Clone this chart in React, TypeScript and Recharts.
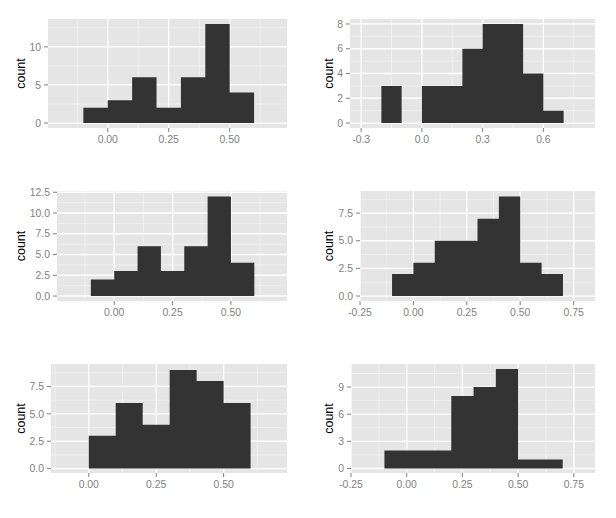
import React from 'react';
import { ComposedChart, Area, XAxis, YAxis, CartesianGrid } from 'recharts';

// Bin edges (bin width 0.1)
const edgesA = [-0.1, 0, 0.1, 0.2, 0.3, 0.4, 0.5, 0.6];
const edgesB = [-0.2, -0.1, 0, 0.1, 0.2, 0.3, 0.4, 0.5, 0.6, 0.7];
const edgesC = [-0.1, 0, 0.1, 0.2, 0.3, 0.4, 0.5, 0.6, 0.7];
const edgesD = [0, 0.1, 0.2, 0.3, 0.4, 0.5, 0.6];

// Counts per bin
const counts1 = [2, 3, 6, 2, 6, 13, 4];
const counts2 = [3, 0, 3, 3, 6, 8, 8, 4, 1];
const counts3 = [2, 3, 6, 3, 6, 12, 4];
const counts4 = [2, 3, 5, 5, 7, 9, 3, 2];
const counts5 = [3, 6, 4, 9, 8, 6];
const counts6 = [2, 2, 2, 8, 9, 11, 1, 1];

// Tick values
const xTicksA = [0, 0.25, 0.5];
const xMinorA = [-0.125, 0.125, 0.375, 0.625];
const xTicksB = [-0.3, 0, 0.3, 0.6];
const xMinorB = [-0.15, 0.15, 0.45, 0.75];
const xTicksC = [-0.25, 0, 0.25, 0.5, 0.75];
const xMinorC = [-0.125, 0.125, 0.375, 0.625];

const yTicks1 = [0, 5, 10];
const yMinor1 = [2.5, 7.5, 12.5];
const yTicks2 = [0, 2, 4, 6, 8];
const yMinor2 = [1, 3, 5, 7];
const yTicks3 = [0, 2.5, 5, 7.5, 10, 12.5];
const yMinor3 = [1.25, 3.75, 6.25, 8.75, 11.25];
const yTicks4 = [0, 2.5, 5, 7.5];
const yMinor4 = [1.25, 3.75, 6.25, 8.75];
const yTicks6 = [0, 3, 6, 9];
const yMinor6 = [1.5, 4.5, 7.5, 10.5];

const build = (edges: number[], counts: number[]) =>
  edges.map((x, i) => ({ x, count: i < counts.length ? counts[i] : 0 }));

const FONT = '"Liberation Sans", Arial, sans-serif';

type Panel = {
  data: { x: number; count: number }[];
  xDomain: [number, number];
  yDomain: [number, number];
  xTicks: number[];
  xMinor: number[];
  yTicks: number[];
  yMinor: number[];
  xDec: number;
  yDec: number;
  left: number;
  top: number;
  width: number;
  height: number;
  mTop: number;
  mRight: number;
  yW: number;
  xH: number;
};

const panels: Panel[] = [
  { data: build(edgesA, counts1), xDomain: [-0.245, 0.735], yDomain: [-0.65, 13.65], xTicks: xTicksA, xMinor: xMinorA, yTicks: yTicks1, yMinor: yMinor1, xDec: 2, yDec: 0, left: 0, top: 0, width: 308, height: 170, mTop: 19, mRight: 21, yW: 48, xH: 42 },
  { data: build(edgesB, counts2), xDomain: [-0.355, 0.855], yDomain: [-0.4, 8.4], xTicks: xTicksB, xMinor: xMinorB, yTicks: yTicks2, yMinor: yMinor2, xDec: 1, yDec: 0, left: 308, top: 0, width: 308, height: 170, mTop: 19, mRight: 21, yW: 42, xH: 42 },
  { data: build(edgesA, counts3), xDomain: [-0.245, 0.74], yDomain: [-0.6, 12.65], xTicks: xTicksA, xMinor: xMinorA, yTicks: yTicks3, yMinor: yMinor3, xDec: 2, yDec: 1, left: 0, top: 170, width: 308, height: 170, mTop: 21, mRight: 21, yW: 57, xH: 39 },
  { data: build(edgesC, counts4), xDomain: [-0.25, 0.85], yDomain: [-0.45, 9.5], xTicks: xTicksC, xMinor: xMinorC, yTicks: yTicks4, yMinor: yMinor4, xDec: 2, yDec: 1, left: 308, top: 170, width: 308, height: 170, mTop: 21, mRight: 21, yW: 52, xH: 39 },
  { data: build(edgesD, counts5), xDomain: [-0.14, 0.735], yDomain: [-0.4, 9.55], xTicks: xTicksA, xMinor: xMinorA, yTicks: yTicks4, yMinor: yMinor4, xDec: 2, yDec: 1, left: 0, top: 340, width: 308, height: 178, mTop: 24, mRight: 21, yW: 51, xH: 45 },
  { data: build(edgesC, counts6), xDomain: [-0.25, 0.845], yDomain: [-0.5, 11.55], xTicks: xTicksC, xMinor: xMinorC, yTicks: yTicks6, yMinor: yMinor6, xDec: 2, yDec: 0, left: 308, top: 340, width: 308, height: 178, mTop: 24, mRight: 21, yW: 43, xH: 45 },
];

const CountLabel = (props: any) => {
  const vb = props.viewBox || { x: 0, y: 0, width: 0, height: 0 };
  const x = 25;
  const y = vb.y + vb.height / 2;
  return (
    <text
      x={x}
      y={y}
      transform={`rotate(-90, ${x}, ${y})`}
      textAnchor="middle"
      fill="#000000"
      fontSize={12.5}
      fontFamily={FONT}
    >
      count
    </text>
  );
};

const tickStyle = { fill: '#7F7F7F', fontSize: 10.4, fontFamily: FONT };

const HistPanel = ({ p }: { p: Panel }) => (
  <div style={{ position: 'absolute', left: p.left, top: p.top, width: p.width, height: p.height }}>
    <ComposedChart
      width={p.width}
      height={p.height}
      data={p.data}
      margin={{ top: p.mTop, right: p.mRight, left: 0, bottom: 0 }}
    >
      <CartesianGrid
        fill="#E5E5E5"
        stroke="#F2F2F2"
        strokeWidth={0.8}
        horizontalValues={p.yMinor}
        verticalValues={p.xMinor}
      />
      <CartesianGrid
        stroke="#FFFFFF"
        strokeWidth={1.3}
        horizontalValues={p.yTicks}
        verticalValues={p.xTicks}
      />
      <XAxis
        dataKey="x"
        type="number"
        domain={p.xDomain}
        allowDataOverflow
        ticks={p.xTicks}
        interval={0}
        height={p.xH}
        axisLine={false}
        tickLine={{ stroke: '#7F7F7F' }}
        tickSize={4}
        tickMargin={4}
        tick={tickStyle}
        tickFormatter={(v: number) => v.toFixed(p.xDec)}
      />
      <YAxis
        type="number"
        domain={p.yDomain}
        allowDataOverflow
        ticks={p.yTicks}
        interval={0}
        width={p.yW}
        axisLine={false}
        tickLine={{ stroke: '#7F7F7F' }}
        tickSize={4}
        tickMargin={3}
        tick={tickStyle}
        tickFormatter={(v: number) => v.toFixed(p.yDec)}
        label={<CountLabel />}
      />
      <Area
        type="stepAfter"
        dataKey="count"
        fill="#333333"
        fillOpacity={1}
        stroke="none"
        baseValue={0}
        dot={false}
        activeDot={false}
        isAnimationActive={false}
      />
    </ComposedChart>
  </div>
);

export default function App() {
  return (
    <div style={{ position: 'absolute', left: 0, top: 0, width: 616, height: 518, background: '#FFFFFF' }}>
      {panels.map((p, i) => (
        <HistPanel key={i} p={p} />
      ))}
    </div>
  );
}
